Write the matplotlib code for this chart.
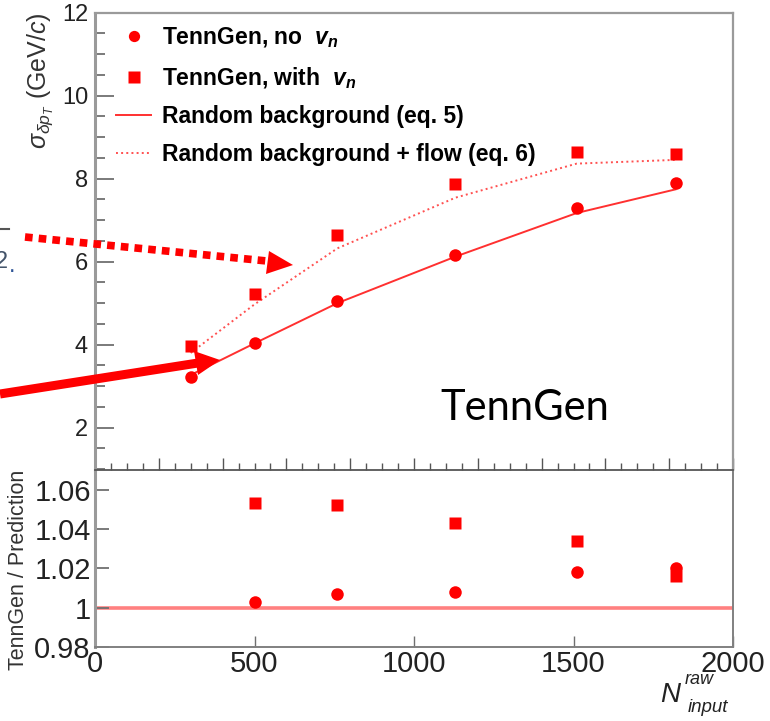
import numpy as np
import matplotlib
matplotlib.use('Agg')
import matplotlib.pyplot as plt
from matplotlib.ticker import MultipleLocator, NullFormatter

plt.rcParams['font.family'] = 'Liberation Sans'
plt.rcParams['mathtext.fontset'] = 'custom'
plt.rcParams['mathtext.rm'] = 'Liberation Sans'
plt.rcParams['mathtext.it'] = 'Liberation Sans:italic'
plt.rcParams['mathtext.bf'] = 'Liberation Sans:bold'
plt.rcParams['mathtext.bfit'] = 'Liberation Sans:italic:bold'

# data
n_input = [300, 500, 760, 1130, 1510, 1820]
sigma_novn = [3.23, 4.05, 5.04, 6.17, 7.30, 7.89]
sigma_vn = [3.96, 5.23, 6.65, 7.86, 8.64, 8.60]
pred_rand = [3.27, 4.03, 5.00, 6.12, 7.17, 7.74]
pred_flow = [3.80, 4.97, 6.32, 7.54, 8.36, 8.45]

n_ratio = [500, 760, 1130, 1510, 1820]
ratio_novn = [1.003, 1.007, 1.008, 1.018, 1.020]
ratio_vn = [1.053, 1.052, 1.043, 1.034, 1.016]

leg_labels = [r'TennGen, no  $\mathbfit{v}_{\mathbfit{n}}$',
              r'TennGen, with  $\mathbfit{v}_{\mathbfit{n}}$',
              'Random background (eq. 5)',
              'Random background + flow (eq. 6)']

W, H = 770, 721
fig = plt.figure(figsize=(7.7, 7.21), dpi=100)

ax2 = fig.add_axes([95/W, 1-647/H, 638/W, 177/H])
ax1 = fig.add_axes([95/W, 1-470/H, 638/W, 457.5/H])

red = '#ff0000'
# top panel
l1, = ax1.plot(n_input, pred_rand, '-', color='#ff3030', lw=1.4, zorder=2)
l2, = ax1.plot(n_input, pred_flow, ':', color='#ff5050', lw=1.4, zorder=2)
p1, = ax1.plot(n_input, sigma_novn, 'o', color=red, ms=9, mec='none', zorder=3)
p2, = ax1.plot(n_input, sigma_vn, 's', color=red, ms=9, mec='none', zorder=3)

ax1.set_xlim(0, 2000)
ax1.set_ylim(0.98, 12)
ax1.xaxis.set_major_locator(MultipleLocator(200))
ax1.xaxis.set_minor_locator(MultipleLocator(50))
ax1.xaxis.set_major_formatter(NullFormatter())
ax1.yaxis.set_major_locator(MultipleLocator(2))
ax1.yaxis.set_minor_locator(MultipleLocator(0.5))
ax1.tick_params(axis='y', which='major', direction='in', length=14, width=1.3,
                color='#707070', labelsize=17, labelcolor='#222222', pad=5)
ax1.tick_params(axis='y', which='minor', direction='in', length=7, width=1.3, color='#707070')
ax1.tick_params(axis='x', which='major', direction='in', length=9, width=1, color='#555555')
ax1.tick_params(axis='x', which='minor', direction='in', length=5, width=1, color='#555555')
for s in ['left', 'top', 'right']:
    ax1.spines[s].set_color('#9a9a9a')
ax1.spines['left'].set_linewidth(2.2)
ax1.spines['top'].set_linewidth(1.6)
ax1.spines['right'].set_linewidth(1.6)
ax1.spines['bottom'].set_color('#555555')
ax1.spines['bottom'].set_linewidth(1.3)
ax1.set_ylabel(r'$\sigma_{\delta p_{T}}$ (GeV/$c$)', loc='top', fontsize=18,
               color='#333333', labelpad=5)

ax1.legend([p1, p2, l1, l2], leg_labels, loc='upper left',
           bbox_to_anchor=(0.013, 1.0), frameon=False,
           prop={'weight': 'bold', 'size': 16.5}, handlelength=1.55,
           handletextpad=0.45, labelspacing=0.65, borderaxespad=0.15,
           markerscale=0.9)

# ratio panel
ax2.axhline(1.0, color='#ff8080', lw=2.6, zorder=1)
ax2.plot(n_ratio, ratio_novn, 'o', color=red, ms=9, mec='none', zorder=3)
ax2.plot(n_ratio, ratio_vn, 's', color=red, ms=9, mec='none', zorder=3)
ax2.set_xlim(0, 2000)
ax2.set_ylim(0.98, 1.07)
ax2.xaxis.set_major_locator(MultipleLocator(500))
ax2.set_yticks([0.98, 1.0, 1.02, 1.04, 1.06])
ax2.set_yticklabels(['0.98', '1', '1.02', '1.04', '1.06'])
ax2.tick_params(axis='y', direction='in', length=10, width=1.3, color='#707070',
                labelsize=21, labelcolor='#222222', pad=3)
ax2.tick_params(axis='x', direction='in', length=8, width=1, color='#707070',
                labelsize=21, labelcolor='#222222', pad=2)
ax2.spines['top'].set_visible(False)
ax2.spines['left'].set_color('#9a9a9a')
ax2.spines['left'].set_linewidth(2.2)
ax2.spines['bottom'].set_color('#808080')
ax2.spines['right'].set_color('#808080')
ax2.spines['bottom'].set_linewidth(1.4)
ax2.spines['right'].set_linewidth(1.4)
ax2.set_ylabel('TennGen / Prediction', loc='top', fontsize=15.5, color='#333333',
               labelpad=4)
ax1.patch.set_visible(False)

# x-axis title
fig.text(682/W, 1-695/H, r'$N$', fontsize=20, ha='right', va='center', color='#222222')
fig.text(685/W, 1-679/H, 'raw', fontsize=13, style='italic', ha='left', va='center', color='#222222')
fig.text(688/W, 1-708/H, 'input', fontsize=13.5, style='italic', ha='left', va='center', color='#222222')

# slide overlay: arrows and text
ov = fig.add_axes([0, 0, 1, 1], zorder=10)
ov.set_xlim(0, W)
ov.set_ylim(H, 0)
ov.axis('off')
ov.patch.set_alpha(0)

ov.plot([25, 272], [237, 261.5], color=red, lw=5.5, linestyle=(0, (1.0, 0.8)),
        solid_capstyle='butt', dash_capstyle='butt')
ov.fill([269, 293, 266], [251, 265, 274], color=red, lw=0)

ov.plot([0, 198], [394, 363], color=red, lw=6.5, solid_capstyle='butt')
ov.fill([194, 220, 198], [351, 360, 375], color=red, lw=0)

ov.text(525, 408, 'TennGen', fontsize=30, family='Lato', ha='center', va='center',
        color='black')
ov.text(-5, 262, '2', fontsize=17, color='#44546a', ha='left', va='center')
ov.text(9, 266, '.', fontsize=17, color='#2f5597', ha='left', va='center')
ov.plot([0, 9], [229, 229], color='#555555', lw=1.5)

fig.savefig('out.png', dpi=100)
